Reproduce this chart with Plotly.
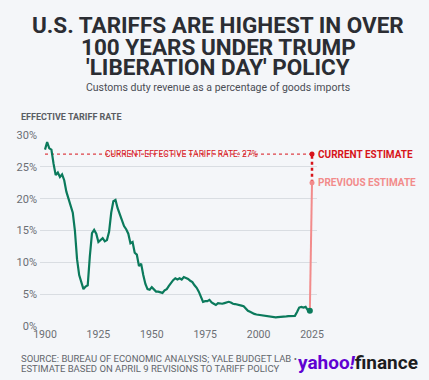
import plotly.graph_objects as go

years = list(range(1900, 2025))
rates = [
    27.7, 28.9, 27.9, 27.7, 25.5, 23.7, 24.1, 23.4, 23.8, 22.9,  # 1900s
    21.1, 20.0, 19.0, 17.8, 15.0, 10.5, 8.0, 6.8, 5.8, 6.2,       # 1910s
    6.4, 11.0, 14.6, 15.1, 14.5, 13.2, 13.5, 13.8, 13.3, 13.5,    # 1920s
    14.8, 17.8, 19.6, 19.8, 18.5, 17.6, 16.8, 15.7, 15.2, 14.5,   # 1930s
    13.0, 13.2, 11.5, 11.2, 9.4, 9.8, 8.0, 6.6, 5.8, 5.7,         # 1940s
    6.1, 5.7, 5.4, 5.4, 5.3, 5.2, 5.6, 5.8, 6.3, 6.8,             # 1950s
    7.2, 7.5, 7.3, 7.5, 7.3, 7.7, 7.6, 7.4, 7.1, 6.9,             # 1960s
    6.4, 6.0, 5.4, 4.6, 3.8, 3.9, 3.9, 4.1, 3.7, 3.5,             # 1970s
    3.3, 3.6, 3.5, 3.5, 3.6, 3.7, 3.8, 3.7, 3.5, 3.45,            # 1980s
    3.4, 3.3, 3.2, 3.1, 2.7, 2.4, 2.25, 2.05, 1.9, 1.8,           # 1990s
    1.75, 1.7, 1.6, 1.55, 1.5, 1.4, 1.4, 1.35, 1.35, 1.4,         # 2000s
    1.4, 1.45, 1.45, 1.5, 1.55, 1.55, 1.55, 1.6, 2.2, 2.9,        # 2010s
    3.0, 2.9, 3.0, 2.5, 2.4,                                      # 2020s
]
estimate_year = 2025
previous_estimate = 22.5
current_estimate = 27.0

y_ticks = [0, 5, 10, 15, 20, 25, 30]
y_tick_labels = ["0%", "5%", "10%", "15%", "20%", "25%", "30%"]
x_ticks = [1900, 1925, 1950, 1975, 2000, 2025]

title_lines = ["U.S. TARIFFS ARE HIGHEST IN OVER", "100 YEARS UNDER TRUMP", "'LIBERATION DAY' POLICY"]
subtitle = "Customs duty revenue as a percentage of goods imports"
source_lines = ["SOURCE: BUREAU OF ECONOMIC ANALYSIS; YALE BUDGET LAB •",
                "ESTIMATE BASED ON APRIL 9 REVISIONS TO TARIFF POLICY"]

GREEN = "#0b7a5c"
RED = "#d7141a"
PINK = "#f28b8b"
BG = "#f4f6f9"
NARROW = "Liberation Sans Narrow, Roboto, Arial"

# geometry helpers (pixels -> paper)
L, R, T, B = 40, 317, 135, 326
def px(x):
    return (x - L) / (R - L)
def py(y):
    return (B - y) / (B - T)

fig = go.Figure()

fig.add_trace(go.Scatter(x=[years[0], estimate_year], y=[current_estimate, current_estimate],
                         mode="lines", line=dict(color=RED, width=1, dash="dot"),
                         hoverinfo="skip", showlegend=False, cliponaxis=False))
fig.add_trace(go.Scatter(x=[years[-1], estimate_year], y=[rates[-1], previous_estimate],
                         mode="lines", line=dict(color=PINK, width=2),
                         hoverinfo="skip", showlegend=False, cliponaxis=False))
fig.add_trace(go.Scatter(x=[estimate_year, estimate_year], y=[previous_estimate, current_estimate],
                         mode="lines", line=dict(color=RED, width=2.5, dash="dot"),
                         hoverinfo="skip", showlegend=False, cliponaxis=False))
fig.add_trace(go.Scatter(x=years, y=rates, mode="lines",
                         line=dict(color=GREEN, width=2.2),
                         showlegend=False, cliponaxis=False))
fig.add_trace(go.Scatter(x=[years[-1]], y=[rates[-1]], mode="markers",
                         marker=dict(color=GREEN, size=6),
                         showlegend=False, cliponaxis=False))
fig.add_trace(go.Scatter(x=[estimate_year], y=[previous_estimate], mode="markers",
                         marker=dict(color=PINK, size=5),
                         showlegend=False, cliponaxis=False))
fig.add_trace(go.Scatter(x=[estimate_year], y=[current_estimate], mode="markers",
                         marker=dict(color=RED, size=5),
                         showlegend=False, cliponaxis=False))

annotations = []
title_y = [24.5, 46.5, 67]
for line, yy in zip(title_lines, title_y):
    annotations.append(dict(text=f"<b>{line}</b>", x=px(218), y=py(yy), xref="paper", yref="paper",
                            xanchor="center", yanchor="middle", showarrow=False,
                            font=dict(family="Roboto, Arial", size=22.5, color="#2b2d33")))
annotations.append(dict(text=subtitle, x=px(218), y=py(87), xref="paper", yref="paper",
                        xanchor="center", yanchor="middle", showarrow=False,
                        font=dict(family="Roboto, Arial", size=10.5, color="#4a4d55")))
annotations.append(dict(text="<b>EFFECTIVE TARIFF RATE</b>", x=px(19), y=py(117), xref="paper", yref="paper",
                        xanchor="left", yanchor="middle", showarrow=False,
                        font=dict(family="Roboto, Arial", size=9, color="#5a5d63")))
annotations.append(dict(text=f"CURRENT EFFECTIVE TARIFF RATE: {current_estimate:.0f}%",
                        x=px(181), y=current_estimate, xref="paper", yref="y",
                        xanchor="center", yanchor="middle", showarrow=False,
                        font=dict(family=NARROW, size=8.5, color=RED)))
annotations.append(dict(text="<b>CURRENT ESTIMATE</b>", x=estimate_year, y=current_estimate,
                        xref="x", yref="y", xanchor="left", yanchor="middle", xshift=4, showarrow=False,
                        font=dict(family=NARROW, size=10, color=RED)))
annotations.append(dict(text="<b>PREVIOUS ESTIMATE</b>", x=estimate_year, y=previous_estimate,
                        xref="x", yref="y", xanchor="left", yanchor="middle", xshift=4, showarrow=False,
                        font=dict(family=NARROW, size=10, color=PINK)))
for line, yy in zip(source_lines, [358, 368.5]):
    annotations.append(dict(text=line, x=px(19), y=py(yy), xref="paper", yref="paper",
                            xanchor="left", yanchor="middle", align="left", showarrow=False,
                            font=dict(family="Roboto, Arial", size=9.5, color="#63666c")))
annotations.append(dict(text="<b><span style='color:#6001d2'>yahoo<i>!</i></span>finance</b>",
                        x=px(357.5), y=py(362), xref="paper", yref="paper", xanchor="center", yanchor="middle",
                        showarrow=False, font=dict(family="Roboto, Arial", size=19, color="#1d1d1f")))

fig.update_layout(
    width=429, height=380,
    margin=dict(l=L, r=429 - R, t=T, b=380 - B),
    paper_bgcolor=BG, plot_bgcolor=BG,
    showlegend=False,
    annotations=annotations,
    xaxis=dict(range=[1900 - 5 / 2.136, 1900 + (R - 45) / 2.136], tickvals=x_ticks,
               showgrid=False, zeroline=False, showline=False, ticks="",
               tickfont=dict(family=NARROW, size=10.5, color="#6b6e74"),
               fixedrange=True),
    yaxis=dict(range=[0, 30], tickvals=y_ticks, ticktext=y_tick_labels,
               showgrid=True, gridcolor="#d9dde2", gridwidth=1, zeroline=False, showline=False,
               ticks="", ticklabelstandoff=2,
               tickfont=dict(family=NARROW, size=11, color="#6b6e74"),
               fixedrange=True),
)

fig.write_html("out.html", config={"displayModeBar": False},
               post_script="document.body.style.margin='0';document.body.style.background='" + BG + "';")
